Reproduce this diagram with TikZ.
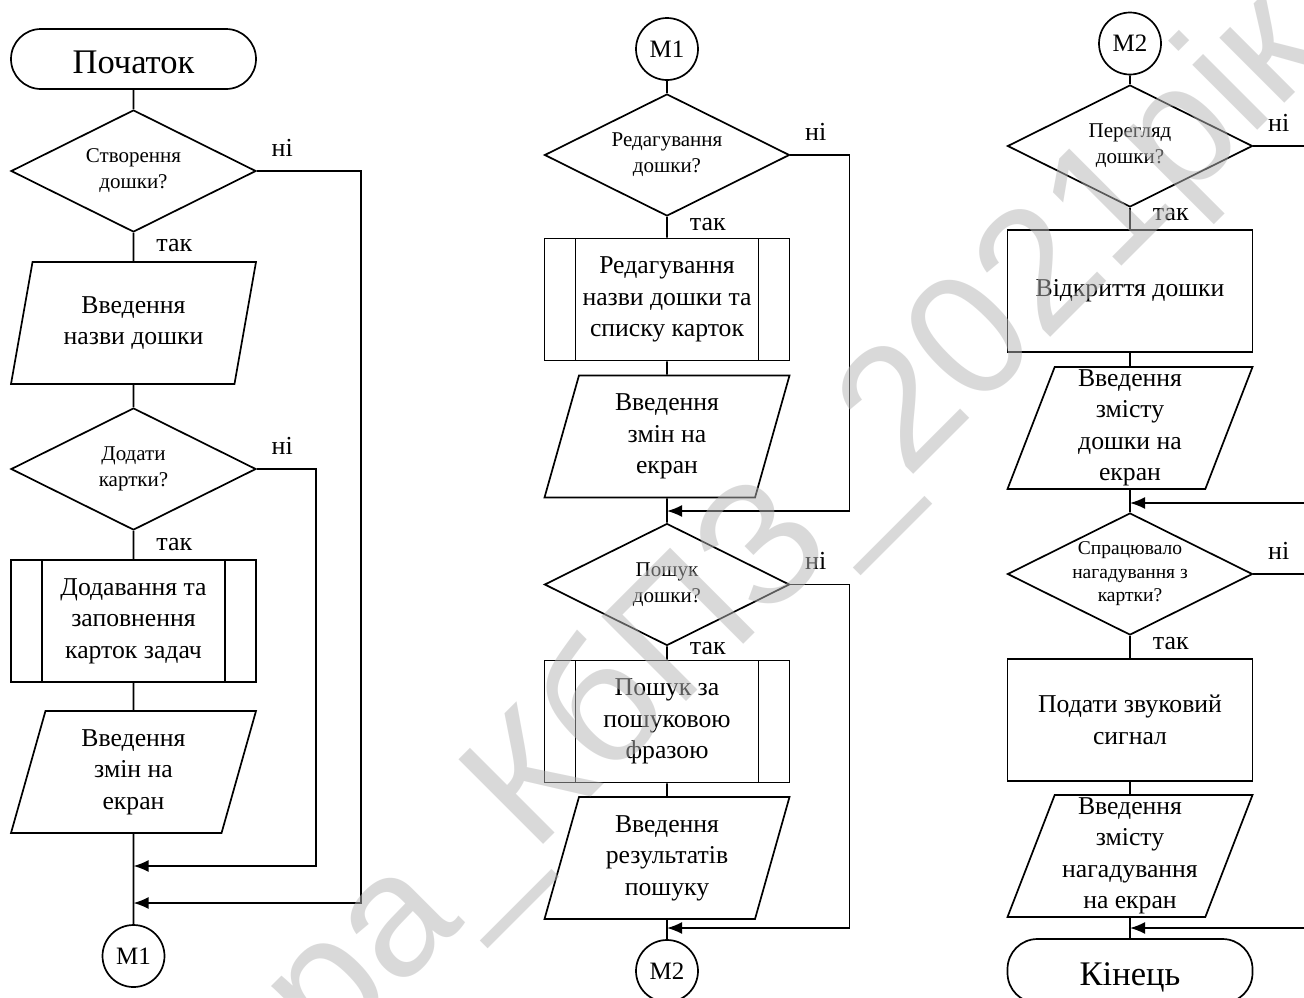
\documentclass[tikz,border=0pt]{standalone}
\usepackage{fontspec}
\setmainfont{Liberation Serif}
\newfontfamily\wmfont{Liberation Sans}
\usetikzlibrary{shapes.geometric,arrows.meta,positioning}

\begin{document}
\begin{tikzpicture}[x=1pt,y=-1pt,line width=1.7pt,
  txt/.style={font=\fontsize{25.7}{31.5}\selectfont, align=center},
  term/.style={draw, rounded corners=30pt, minimum width=245pt, minimum height=60pt,
    text height=29pt, text depth=1pt, font=\fontsize{34.5}{36}\selectfont},
  cond/.style={draw, diamond, aspect=2, minimum width=245pt, minimum height=122pt, inner sep=0pt,
    align=center, font=\fontsize{21}{26}\selectfont},
  proc/.style={draw, rectangle, minimum width=245pt, minimum height=122pt, txt},
  subproc/.style={proc, path picture={
    \draw ([xshift=31pt]path picture bounding box.north west) -- ([xshift=31pt]path picture bounding box.south west)
          ([xshift=-31pt]path picture bounding box.north east) -- ([xshift=-31pt]path picture bounding box.south east);}},
  inout/.style={draw, trapezium, trapezium left angle=68, trapezium right angle=112, trapezium stretches body,
    minimum width=245pt, minimum height=122pt, inner sep=0pt, txt},
  conn/.style={draw, circle, minimum size=62pt, inner sep=0pt, font=\fontsize{25}{28}\selectfont},
  lbl/.style={font=\fontsize{26}{28}\selectfont, anchor=base west, inner sep=0pt},
  arr/.style={-{Latex[length=15pt,width=12pt]}}]
\fill[white] (0,0) rectangle (1304,997);
\useasboundingbox (0,0) rectangle (1304,997);
\clip (0,0) rectangle (1304,997);

% first column
\node[term] (start) at (133.5,59) {Початок};
\node[cond] (c1) at (133.5,171) {Створення\\дошки?};
\node[inout] (io1) at (133.5,323) {Введення\\назви дошки};
\node[cond] (c2) at (133.5,469) {Додати\\картки?};
\node[subproc] (sp1) at (133.5,621) {Додавання та\\заповнення\\карток задач};
\node[inout] (io2) at (133.5,772) {Введення\\змін на\\екран};
\node[conn] (m1a) at (133.5,956) {М1};
\coordinate (j1) at (133.5,866);
\coordinate (j2) at (133.5,903);

\draw (start) -- (c1) -- (io1) -- (c2) -- (sp1) -- (io2) -- (m1a);
\draw[arr] (c1.east) -- ++(104,0) |- (j2);
\draw[arr] (c2.east) -- ++(59,0) |- (j1);

% second column
\node[conn] (m1b) at (667,49) {М1};
\node[cond] (c3) at (667,155) {Редагування\\дошки?};
\node[subproc] (sp2) at (667,299.5) {Редагування\\назви дошки та\\списку карток};
\node[inout] (io3) at (667,436.5) {Введення\\змін на\\екран};
\node[cond] (c4) at (667,584.5) {Пошук\\дошки?};
\node[subproc] (sp3) at (667,721.5) {Пошук за\\пошуковою\\фразою};
\node[inout] (io4) at (667,858) {Введення\\результатів\\пошуку};
\node[conn] (m2a) at (667,971) {М2};
\coordinate (j3) at (667,511);
\coordinate (j4) at (667,928);

\draw (m1b) -- (c3) -- (sp2) -- (io3) -- (c4) -- (sp3) -- (io4) -- (m2a);
\draw[arr] (c3.east) -- ++(59,0) |- (j3);
\draw[arr] (c4.east) -- ++(59,0) |- (j4);

% third column
\node[conn] (m2b) at (1130,43.5) {М2};
\node[cond] (c5) at (1130,146) {Перегляд\\дошки?};
\node[proc] (pr1) at (1130,291) {Відкриття дошки};
\node[inout] (io5) at (1130,428) {Введення\\змісту\\дошки на\\екран};
\node[cond, font=\fontsize{19.5}{23.5}\selectfont] (c6) at (1130,574) {Спрацювало\\нагадування з\\картки?};
\node[proc] (pr2) at (1130,720) {Подати звуковий\\сигнал};
\node[inout] (io6) at (1130,856) {Введення\\змісту\\нагадування\\на екран};
\node[term, minimum height=64pt] (stop) at (1130,971) {Кінець};
\coordinate (edge) at (1310,0);
\coordinate (j5) at (1130,503);
\coordinate (j6) at (1130,928);

\draw (m2b) -- (c5) -- (pr1) -- (io5) -- (c6) -- (pr2) -- (io6) -- (stop);
\draw (c5.east) -- (c5.east -| edge);
\draw (c6.east) -- (c6.east -| edge);
\draw[arr] (j5 -| edge) -- (j5);
\draw[arr] (j6 -| edge) -- (j6);

% labels
\foreach \c in {c1,c2,c3,c4,c5,c6}
  \node[lbl] at ([xshift=14pt,yshift=15pt]\c.east) {ні};
\foreach \c/\dy in {c1/-19,c2/-20,c3/-14,c4/-8,c5/-13,c6/-14}
  \node[lbl] at ([xshift=22pt,yshift=\dy pt]\c.south) {так};

% watermark
\node[font=\wmfont\fontsize{174}{174}\selectfont, text=black!29, opacity=0.5, rotate=45,
  anchor=base west, inner sep=0pt] (wm) at (328,1060) {ра\_КбПЗ\_2021рік};
\end{tikzpicture}
\end{document}
